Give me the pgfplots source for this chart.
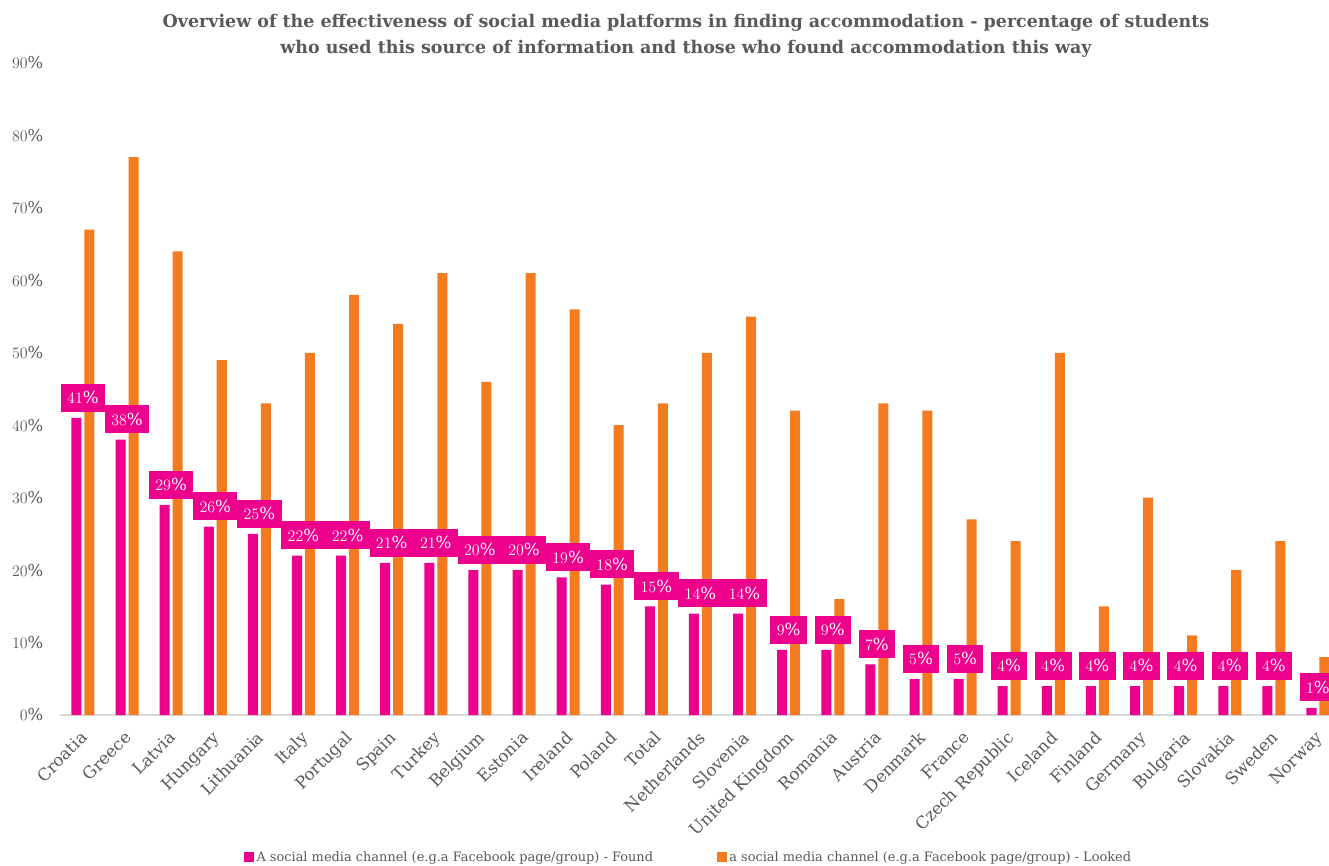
\documentclass[border=0pt]{standalone}
\usepackage{pgfplots}
\usepackage{pgfplotstable}
\pgfplotsset{compat=1.18}
\usepackage{fontspec}
\setmainfont{DejaVu Serif}
\definecolor{mag}{HTML}{EC008C}
\definecolor{org}{HTML}{F47B20}
\definecolor{txt}{HTML}{595959}
\definecolor{axl}{HTML}{D9D9D9}

\pgfplotstableread{
idx found looked
0 41 67
1 38 77
2 29 64
3 26 49
4 25 43
5 22 50
6 22 58
7 21 54
8 21 61
9 20 46
10 20 61
11 19 56
12 18 40
13 15 43
14 14 50
15 14 55
16 9 42
17 9 16
18 7 43
19 5 42
20 5 27
21 4 24
22 4 50
23 4 15
24 4 30
25 4 11
26 4 20
27 4 24
28 1 8
}\data

\begin{document}
\begin{tikzpicture}
\begin{axis}[
  scale only axis,
  width=951.75pt, height=489pt,
  xmin=-0.52, xmax=28.25, ymin=0, ymax=90,
  axis x line*=bottom,
  axis y line*=left,
  x axis line style={draw=axl, line width=0.8pt},
  y axis line style={draw=none},
  major tick length=0pt,
  ytick={0,10,...,90},
  yticklabel={\pgfmathprintnumber{\tick}\%},
  yticklabel style={anchor=east, xshift=-9pt, font=\fontsize{12.3}{14}\selectfont, text=txt},
  xtick={0,...,28},
  xticklabels={Croatia,Greece,Latvia,Hungary,Lithuania,Italy,Portugal,Spain,Turkey,Belgium,Estonia,Ireland,Poland,Total,Netherlands,Slovenia,United Kingdom,Romania,Austria,Denmark,France,Czech Republic,Iceland,Finland,Germany,Bulgaria,Slovakia,Sweden,Norway},
  xticklabel style={xshift=-2.5pt, yshift=-6.4pt, rotate=45, anchor=north east, font=\fontsize{12.5}{14}\selectfont, text=txt},
  legend style={at={(0.4957,-0.218)}, anchor=center, draw=none, fill=none,
    font=\fontsize{9.7}{11}\selectfont, text=txt,
    /tikz/every even column/.append style={column sep=46pt}},
  legend columns=2,
  clip=false,
]
\addplot[ybar, bar width=0.227, bar shift=-0.147, fill=mag, draw=none,
  legend image code/.code={\fill[mag] (0pt,-3.6pt) rectangle (7.2pt,3.6pt);}]
  table[x=idx, y=found] {\data};
\addlegendentry{A social media channel (e.g.a Facebook page/group) - Found}
\addplot[ybar, bar width=0.227, bar shift=0.147, fill=org, draw=none,
  legend image code/.code={\fill[org] (0pt,-3.6pt) rectangle (7.2pt,3.6pt);}]
  table[x=idx, y=looked] {\data};
\addlegendentry{a social media channel (e.g.a Facebook page/group) - Looked}
\addplot[ybar, bar width=0.227, bar shift=-0.147, fill=none, draw=none, forget plot,
  nodes near coords={\pgfmathprintnumber{\pgfplotspointmeta}\%},
  nodes near coords style={fill=mag, text=white, anchor=south, yshift=4.5pt,
    minimum height=21pt, inner xsep=4.8pt, inner ysep=0pt,
    font=\fontsize{12.5}{14}\selectfont}]
  table[x=idx, y=found] {\data};
\coordinate (bbsw) at (rel axis cs:0,0);
\node[anchor=north, align=center, text=txt, font=\bfseries\fontsize{13.1}{19.5}\selectfont]
  at (rel axis cs:0.4933,1) [yshift=40pt]
  {Overview of the effectiveness of social media platforms in finding accommodation - percentage of students\\who used this source of information and those who found accommodation this way};
\end{axis}
\pgfresetboundingbox
\useasboundingbox ([xshift=-45pt,yshift=-112.5pt]bbsw) rectangle ([xshift=951.75pt,yshift=536.25pt]bbsw);
\end{tikzpicture}
\end{document}
